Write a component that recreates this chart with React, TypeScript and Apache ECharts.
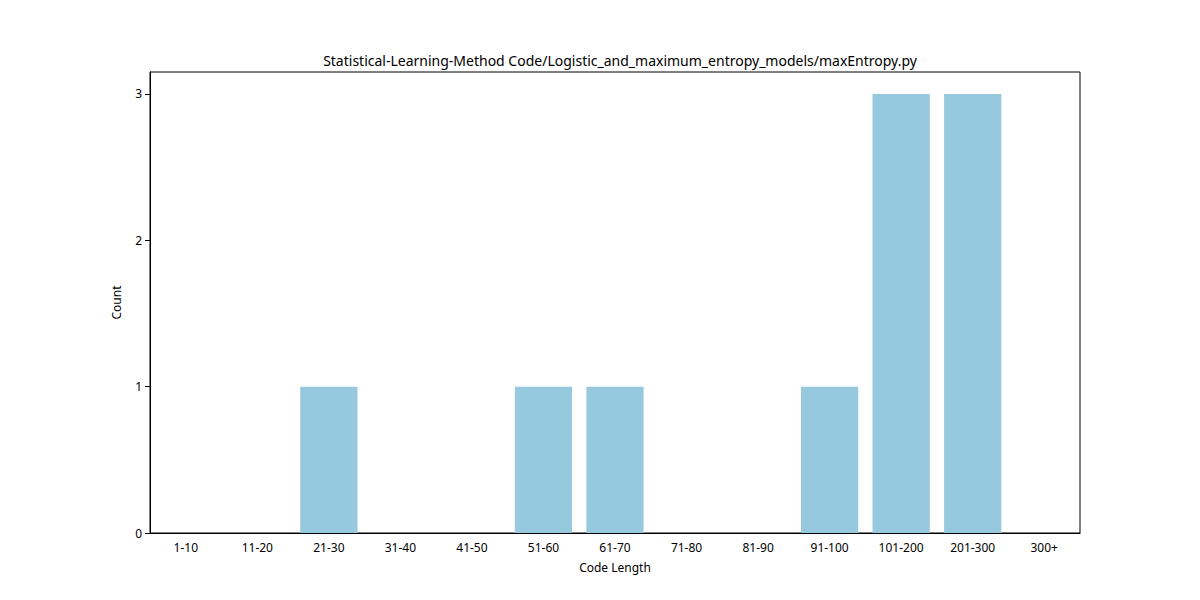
import { useEffect, useRef } from 'react';
import * as echarts from 'echarts';

const categories = ['1-10', '11-20', '21-30', '31-40', '41-50', '51-60', '61-70', '71-80', '81-90', '91-100', '101-200', '201-300', '300+'];
const counts = [0, 0, 1, 0, 0, 1, 1, 0, 0, 1, 3, 3, 0];

const FONT = '"Noto Sans", sans-serif';

export default function App() {
  const ref = useRef<HTMLDivElement>(null);

  useEffect(() => {
    if (!ref.current) return;
    const chart = echarts.init(ref.current, undefined, { renderer: 'svg' });
    chart.setOption({
      animation: false,
      textStyle: { fontFamily: FONT },
      title: {
        text: 'Statistical-Learning-Method Code/Logistic_and_maximum_entropy_models/maxEntropy.py',
        left: 607,
        textAlign: 'center',
        top: 40,
        textStyle: { fontSize: 14, fontWeight: 'normal', color: '#000', fontFamily: FONT },
      },
      grid: { left: 142, right: 112, top: 64, bottom: 59, show: true, borderColor: '#000', borderWidth: 1 },
      xAxis: {
        type: 'category',
        data: categories,
        name: 'Code Length',
        nameLocation: 'middle',
        nameGap: 28,
        nameTextStyle: { fontSize: 12, color: '#000' },
        axisLine: { lineStyle: { color: '#000' } },
        axisTick: { alignWithLabel: true, lineStyle: { color: '#000' } },
        axisLabel: { color: '#000', fontSize: 12, margin: 8 },
      },
      yAxis: {
        type: 'value',
        min: 0,
        max: 3.15,
        interval: 1,
        name: 'Count',
        nameLocation: 'middle',
        nameGap: 28,
        nameTextStyle: { fontSize: 12, color: '#000' },
        axisLine: { show: true, lineStyle: { color: '#000' } },
        axisTick: { show: true, lineStyle: { color: '#000' } },
        axisLabel: { color: '#000', fontSize: 12, showMaxLabel: false },
        splitLine: { show: false },
      },
      series: [
        {
          type: 'bar',
          data: counts,
          barWidth: '80%',
          itemStyle: { color: '#96c9dd', borderWidth: 0 },
        },
      ],
    });
    return () => chart.dispose();
  }, []);

  return <div ref={ref} style={{ width: 1184, height: 584 }} />;
}
